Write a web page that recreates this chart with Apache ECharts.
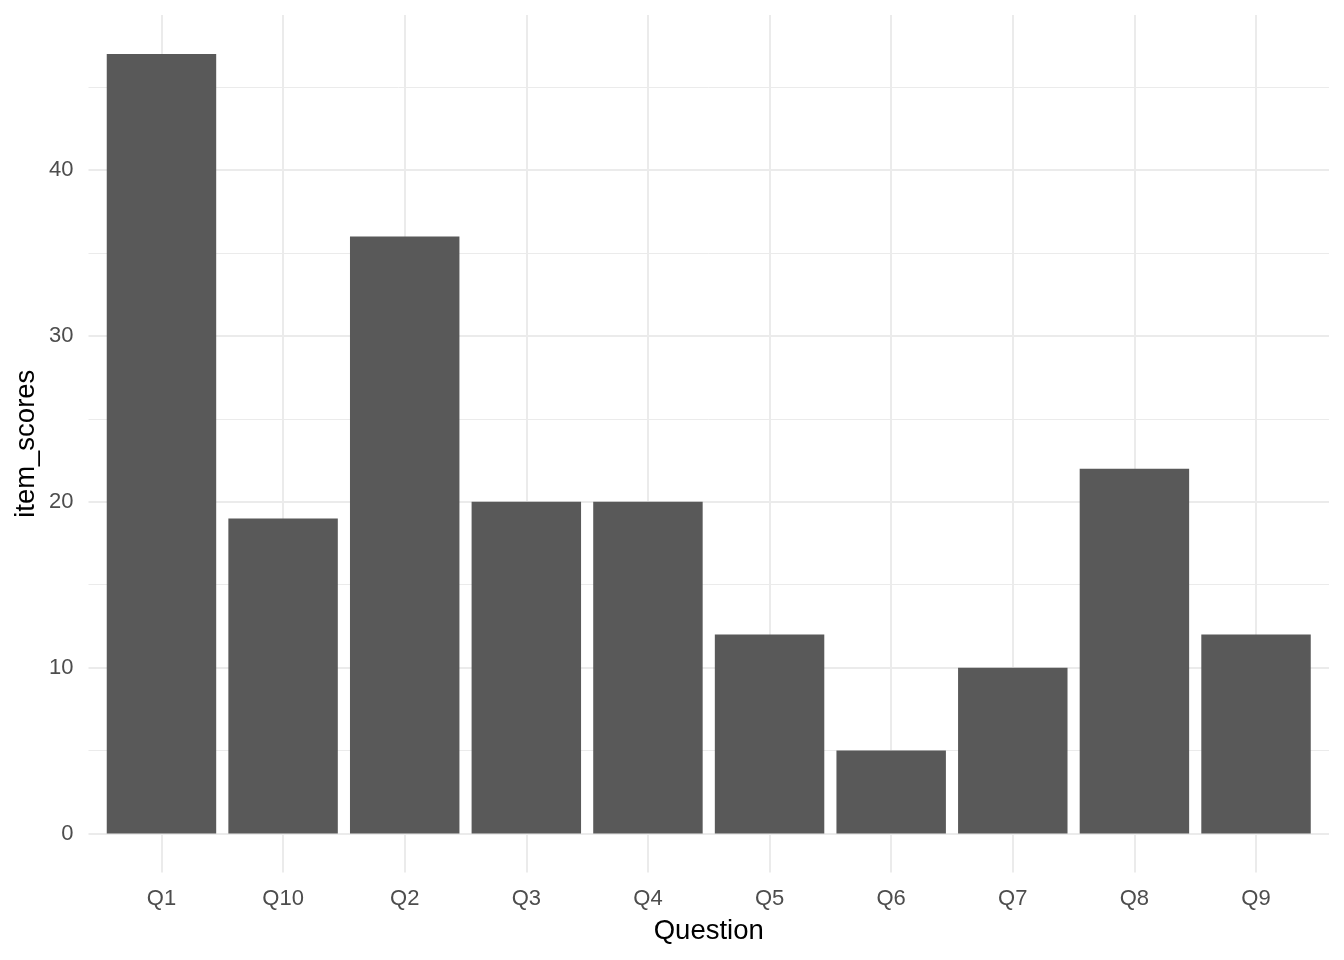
<!DOCTYPE html>
<html>
<head>
<meta charset="utf-8">
<script src="https://cdn.jsdelivr.net/npm/echarts@6/dist/echarts.min.js"></script>
<style>html,body{margin:0;padding:0;background:#fff}#c{width:1344px;height:960px}</style>
</head>
<body>
<div id="c"></div>
<script>
const categories = ["Q1","Q10","Q2","Q3","Q4","Q5","Q6","Q7","Q8","Q9"];
const itemScores = [47, 19, 36, 20, 20, 12, 5, 10, 22, 12];
const yMajorBreaks = [0, 10, 20, 30, 40];
const yMinorBreaks = [5, 15, 25, 35, 45];

const xPos = categories.map((c, i) => i + 1);
const yMax = Math.max(...itemScores);
const yPad = yMax * 0.05;

const gridLines = [];
yMinorBreaks.forEach(v => gridLines.push({yAxis: v, lineStyle: {width: 1}}));
yMajorBreaks.forEach(v => gridLines.push({yAxis: v, lineStyle: {width: 2}}));
xPos.forEach(v => gridLines.push({xAxis: v, lineStyle: {width: 2}}));

const chart = echarts.init(document.getElementById('c'), null, {renderer: 'canvas'});
chart.setOption({
  animation: false,
  backgroundColor: '#ffffff',
  textStyle: {fontFamily: 'Liberation Sans, Arial, sans-serif'},
  grid: {left: 88.5, right: 15, top: 15, bottom: 87.5, containLabel: false},
  xAxis: {
    type: 'value',
    min: 0.4, max: 10.6,
    name: 'Question',
    nameLocation: 'middle',
    nameGap: 45,
    nameMoveOverlap: false,
    nameTextStyle: {color: '#000000', fontSize: 27.5, fontFamily: 'Liberation Sans, Arial, sans-serif'},
    axisLine: {show: false},
    axisTick: {show: false},
    splitLine: {show: false},
    axisLabel: {
      customValues: xPos,
      formatter: v => categories[Math.round(v) - 1] || '',
      color: '#4D4D4D', fontSize: 22, margin: 15,
      fontFamily: 'Liberation Sans, Arial, sans-serif'
    }
  },
  yAxis: {
    type: 'value',
    min: -yPad, max: yMax + yPad,
    name: 'item_scores',
    nameLocation: 'middle',
    nameGap: 48,
    nameMoveOverlap: false,
    nameTextStyle: {color: '#000000', fontSize: 27.5, fontFamily: 'Liberation Sans, Arial, sans-serif'},
    axisLine: {show: false},
    axisTick: {show: false},
    splitLine: {show: false},
    axisLabel: {
      customValues: yMajorBreaks,
      color: '#4D4D4D', fontSize: 22, margin: 15,
      fontFamily: 'Liberation Sans, Arial, sans-serif'
    }
  },
  series: [{
    type: 'bar',
    z: 2,
    barWidth: '90%',
    itemStyle: {color: '#595959'},
    emphasis: {disabled: true},
    data: xPos.map((x, i) => [x, itemScores[i]]),
    markLine: {
      z: 1,
      silent: true,
      symbol: ['none', 'none'],
      label: {show: false},
      emphasis: {disabled: true},
      lineStyle: {color: '#EBEBEB', type: 'solid'},
      data: gridLines
    }
  }]
});
</script>
</body>
</html>
